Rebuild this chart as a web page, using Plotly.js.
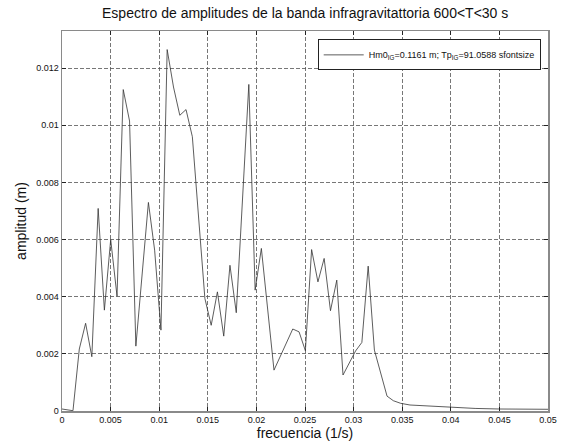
<!DOCTYPE html>
<html>
<head>
<meta charset="utf-8">
<script src="https://cdn.plot.ly/plotly-3.0.1.min.js"></script>
<style>
html,body{margin:0;padding:0;background:#fff;}
#chart{width:562px;height:444px;}
</style>
</head>
<body>
<div id="chart"></div>
<script>
// frequency (1/s)
const frecuencia = [0, 0.00049, 0.00113, 0.00178, 0.00243, 0.00307, 0.00372, 0.00436, 0.00501, 0.00566,
  0.0063, 0.00695, 0.0076, 0.00889, 0.00953, 0.01018, 0.01082, 0.01147, 0.01212, 0.01276,
  0.01341, 0.0147, 0.01535, 0.01599, 0.01664, 0.01728, 0.01793, 0.01922, 0.01987, 0.02051,
  0.02181, 0.02374, 0.02439, 0.02504, 0.02568, 0.02633, 0.02697, 0.02762, 0.02827, 0.02891,
  0.0302, 0.03085, 0.0315, 0.03214, 0.03344, 0.03409, 0.03483, 0.0358, 0.0368, 0.0382,
  0.04, 0.0425, 0.045, 0.0475, 0.05];
// amplitude (m)
const amplitud = [0.00007, 0.00004, 0.00001, 0.00217, 0.00307, 0.0019, 0.00709, 0.00353, 0.0060, 0.00402,
  0.01125, 0.01015, 0.00227, 0.0073, 0.00563, 0.00283, 0.01265, 0.01134, 0.01035, 0.01055,
  0.0096, 0.00394, 0.0030, 0.00417, 0.00262, 0.0051, 0.00344, 0.01143, 0.00423, 0.00569,
  0.00143, 0.00287, 0.00277, 0.00211, 0.00565, 0.00452, 0.00534, 0.00351, 0.00458, 0.00126,
  0.0021, 0.0024, 0.00507, 0.00213, 0.00052, 0.00036, 0.00027, 0.00021, 0.00019, 0.00015,
  0.00012, 0.00009, 0.00007, 0.00006, 0.00006];

const xTicks = [0, 0.005, 0.01, 0.015, 0.02, 0.025, 0.03, 0.035, 0.04, 0.045, 0.05];
const xTickText = ["0", "0.005", "0.01", "0.015", "0.02", "0.025", "0.03", "0.035", "0.04", "0.045", "0.05"];
const yTicks = [0, 0.002, 0.004, 0.006, 0.008, 0.01, 0.012];
const yTickText = ["0", "0.002", "0.004", "0.006", "0.008", "0.01", "0.012"];

const seriesName = "Hm0<sub>IG</sub>=0.1161 m; Tp<sub>IG</sub>=91.0588 sfontsize";

const trace = {
  x: frecuencia,
  y: amplitud,
  type: 'scatter',
  mode: 'lines',
  name: seriesName,
  line: {color: '#333333', width: 0.8}
};

const axisCommon = {
  showline: true,
  mirror: 'ticks',
  linecolor: '#8a8a8a',
  linewidth: 1.5,
  ticks: 'inside',
  ticklen: 4,
  tickcolor: '#222',
  tickwidth: 1,
  showgrid: true,
  gridcolor: '#555555',
  gridwidth: 0.8,
  griddash: '4px,2px',
  zeroline: false,
  tickfont: {family: 'Liberation Sans, Arial, sans-serif', size: 9, color: '#111'}
};

const layout = {
  width: 562,
  height: 444,
  margin: {l: 62, r: 14, t: 31, b: 33},
  paper_bgcolor: '#ffffff',
  plot_bgcolor: '#ffffff',
  font: {family: 'Liberation Sans, Arial, sans-serif', color: '#111'},
  title: {
    text: 'Espectro de amplitudes de la banda infragravitattoria 600&lt;T&lt;30 s',
    font: {size: 14, color: '#111'},
    x: 0.543, xanchor: 'center', y: 0.97, yanchor: 'middle'
  },
  xaxis: Object.assign({}, axisCommon, {
    range: [0, 0.05],
    tickvals: xTicks,
    ticktext: xTickText,
    title: {text: 'frecuencia (1/s)', font: {size: 14}, standoff: 2}
  }),
  yaxis: Object.assign({}, axisCommon, {
    range: [0, 0.0133],
    tickvals: yTicks,
    ticktext: yTickText,
    title: {text: 'amplitud (m)', font: {size: 14}, standoff: 6}
  }),
  showlegend: true,
  legend: {
    x: 0.985, xanchor: 'right',
    y: 0.978, yanchor: 'top',
    bgcolor: '#ffffff',
    bordercolor: '#222',
    borderwidth: 1,
    font: {size: 9, color: '#111'},
    itemwidth: 40
  }
};

Plotly.newPlot('chart', [trace], layout, {displayModeBar: false, staticPlot: true});
</script>
</body>
</html>
